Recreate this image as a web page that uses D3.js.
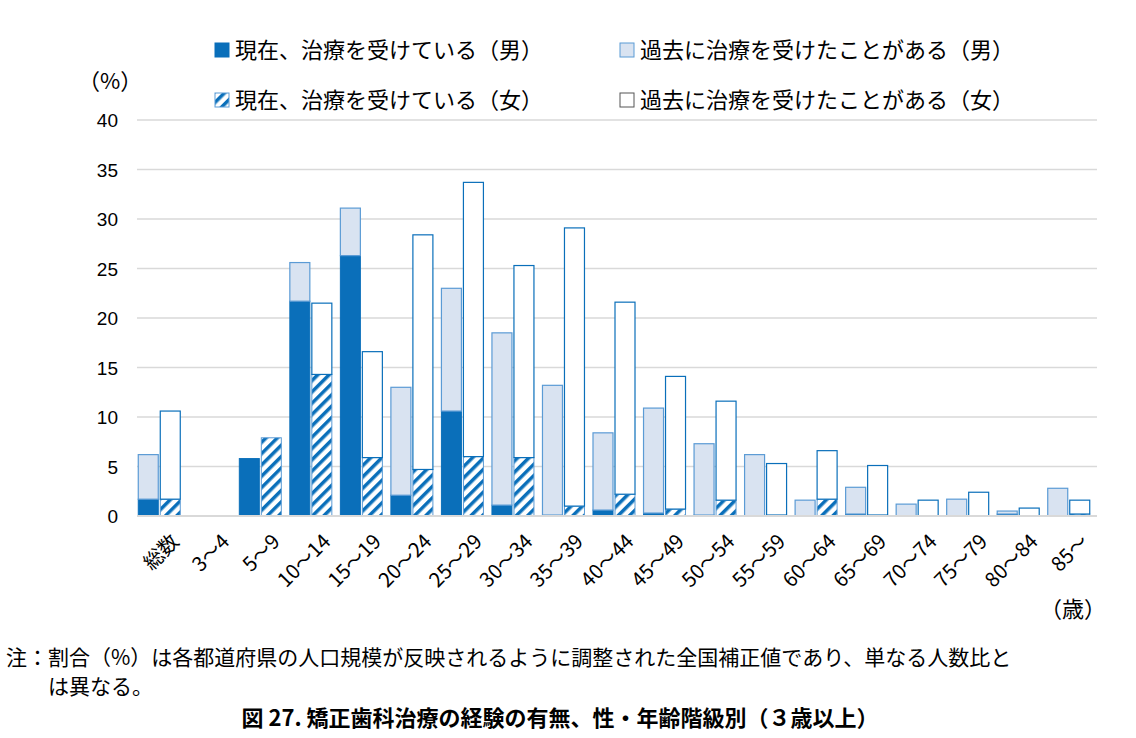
<html>
<head>
<script src="https://cdn.jsdelivr.net/npm/d3@7"></script>
<style>
body { margin: 0; background: #fff; font-family: "Noto Sans CJK JP", sans-serif; }
</style>
</head>
<body>
<svg id="chart" width="1136" height="738"></svg>
<script>
var categories = ["総数","3〜4","5〜9","10〜14","15〜19","20〜24","25〜29","30〜34","35〜39","40〜44","45〜49","50〜54","55〜59","60〜64","65〜69","70〜74","75〜79","80〜84","85〜"];
// 現在治療中 / 過去に治療（積み上げ部分）
var maleCurrent   = [1.7, 0, 5.8, 21.7, 26.3, 2.1, 10.6, 1.1, 0.1, 0.6, 0.3, 0.1, 0, 0, 0.2, 0, 0, 0.2, 0];
var malePast      = [4.5, 0, 0, 3.9, 4.8, 10.9, 12.4, 17.4, 13.1, 7.8, 10.6, 7.2, 6.2, 1.6, 2.7, 1.2, 1.7, 0.3, 2.8];
var femaleCurrent = [1.7, 0, 7.9, 14.3, 5.9, 4.7, 6.0, 5.9, 1.0, 2.2, 0.7, 1.6, 0.1, 1.7, 0.1, 0, 0, 0, 0.2];
var femalePast    = [8.9, 0, 0, 7.2, 10.7, 23.7, 27.7, 19.4, 28.1, 19.4, 13.4, 10.0, 5.2, 4.9, 5.0, 1.6, 2.4, 0.8, 1.4];
var yTicks = [0, 5, 10, 15, 20, 25, 30, 35, 40];

var svg = d3.select("#chart");
var blue = "#0a6fba", light = "#d9e3f1", edge = "#5b9bd5";

var defs = svg.append("defs");
var pat = defs.append("pattern").attr("id", "hatch").attr("patternUnits", "userSpaceOnUse")
    .attr("width", 8).attr("height", 8).attr("patternTransform", "rotate(45)");
pat.append("rect").attr("width", 8).attr("height", 8).attr("fill", "#fff");
pat.append("rect").attr("width", 3.5).attr("height", 8).attr("fill", blue);

var x = d3.scaleBand().domain(categories).range([137, 1097]).paddingInner(0).paddingOuter(0);
var y = d3.scaleLinear().domain([0, 40]).range([516, 120]);

// grid
svg.append("g").selectAll("line").data(yTicks).join("line")
    .attr("x1", 137).attr("x2", 1097)
    .attr("y1", function(d) { return y(d); }).attr("y2", function(d) { return y(d); })
    .attr("stroke", "#d9d9d9").attr("stroke-width", 1.5);

svg.append("g").selectAll("text").data(yTicks).join("text")
    .attr("x", 118).attr("y", function(d) { return y(d) + 7; })
    .attr("text-anchor", "end").attr("font-size", 19).attr("font-family", "Liberation Sans, Arial")
    .text(function(d) { return d; });

var bw = 20, gap = 2;
function bars(cur, past, dx, curFill, pastFill, curStroke, pastStroke) {
    var g = svg.append("g");
    g.selectAll(".c").data(categories).join("rect")
        .attr("x", function(d) { return x(d) + dx; }).attr("width", bw)
        .attr("y", function(d, i) { return y(cur[i]); })
        .attr("height", function(d, i) { return y(0) - y(cur[i]); })
        .attr("fill", curFill).attr("stroke", function(d, i) { return cur[i] > 0 ? curStroke : "none"; });
    g.selectAll(".p").data(categories).join("rect")
        .attr("x", function(d) { return x(d) + dx; }).attr("width", bw)
        .attr("y", function(d, i) { return y(cur[i] + past[i]); })
        .attr("height", function(d, i) { return y(cur[i]) - y(cur[i] + past[i]); })
        .attr("fill", pastFill).attr("stroke", function(d, i) { return past[i] > 0 ? pastStroke : "none"; })
        .attr("stroke-width", 1.2);
}
var center = x.bandwidth() / 2;
bars(maleCurrent, malePast, center - bw - gap / 2 - 3, blue, light, blue, edge);
bars(femaleCurrent, femalePast, center + gap / 2 - 3, "url(#hatch)", "#fff", edge, blue);

// baseline
svg.append("line").attr("x1", 137).attr("x2", 1097).attr("y1", y(0)).attr("y2", y(0))
    .attr("stroke", "#d9d9d9").attr("stroke-width", 2);

// x labels
svg.append("g").selectAll("text").data(categories).join("text")
    .attr("transform", function(d) { return "translate(" + (x(d) + center + 8) + ",533) rotate(-45)"; })
    .attr("text-anchor", "end").attr("dy", "0.7em").attr("font-size", 20)
    .text(function(d) { return d; });

svg.append("text").attr("x", 78).attr("y", 89).attr("font-size", 22).text("（%）");
svg.append("text").attr("x", 1040).attr("y", 617).attr("font-size", 22).text("（歳）");

// legend
var legend = [
    { label: "現在、治療を受けている（男）", fill: blue, stroke: blue, x: 215, y: 50 },
    { label: "過去に治療を受けたことがある（男）", fill: light, stroke: edge, x: 620, y: 50 },
    { label: "現在、治療を受けている（女）", fill: "url(#hatch)", stroke: edge, x: 215, y: 100 },
    { label: "過去に治療を受けたことがある（女）", fill: "#fff", stroke: "#555", x: 620, y: 100 }
];
var lg = svg.append("g").selectAll("g").data(legend).join("g")
    .attr("transform", function(d) { return "translate(" + d.x + "," + d.y + ")"; });
lg.append("rect").attr("x", 0).attr("y", -7).attr("width", 14).attr("height", 14)
    .attr("fill", function(d) { return d.fill; }).attr("stroke", function(d) { return d.stroke; });
lg.append("text").attr("x", 20).attr("y", 8).attr("font-size", 22).text(function(d) { return d.label; });

// notes
svg.append("text").attr("x", 6).attr("y", 665).attr("font-size", 21)
    .text("注：割合（%）は各都道府県の人口規模が反映されるように調整された全国補正値であり、単なる人数比と");
svg.append("text").attr("x", 48).attr("y", 694).attr("font-size", 21).text("は異なる。");
svg.append("text").attr("x", 560).attr("y", 726).attr("font-size", 22).attr("font-weight", "bold")
    .attr("text-anchor", "middle").text("図 27.  矯正歯科治療の経験の有無、性・年齢階級別（３歳以上）");
</script>
</body>
</html>
